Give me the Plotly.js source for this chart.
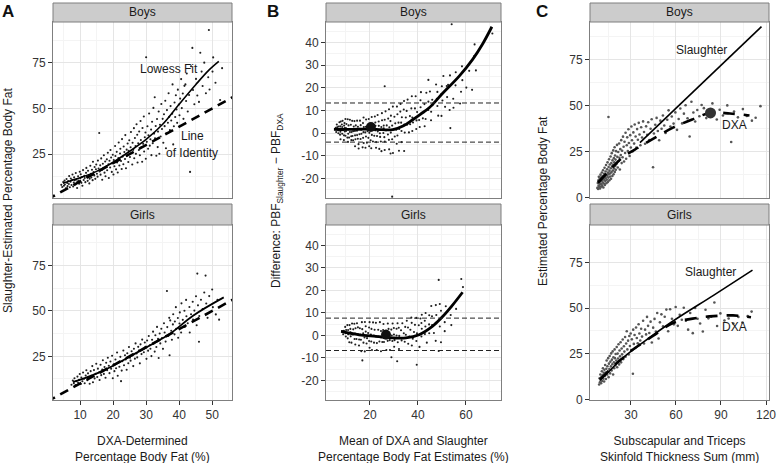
<!DOCTYPE html>
<html><head><meta charset="utf-8">
<script src="https://cdn.plot.ly/plotly-3.0.1.min.js"></script>
<style>html,body{margin:0;padding:0;background:#fff}#chart{width:777px;height:463px}</style>
</head><body><div id="chart"></div>
<script>
// ---------- DATA ----------
// Panel A: [DXA %BF, Slaughter-estimated %BF]
const boysA = [[4.3,8.1],[4.6,6.9],[4.9,9.7],[5.1,7.6],[5.3,10.4],[5.4,8.3],[5.7,6.2],[5.9,11.3],[6.1,9.1],[6.2,7.4],[6.4,10.2],[6.6,8.6],[6.7,12.9],[6.9,6.8],[7.1,9.8],[7.2,11.6],[7.4,8.0],[7.6,10.9],[7.7,13.8],[7.9,7.2],[8.1,9.4],[8.2,12.2],[8.4,10.6],[8.6,8.3],[8.7,14.6],[8.9,11.1],[9.1,6.4],[9.2,9.9],[9.4,12.8],[9.6,10.5],[9.7,8.7],[9.9,15.3],[10.1,11.7],[10.2,13.9],[10.4,9.2],[10.6,12.4],[10.7,7.6],[10.9,16.2],[11.1,10.8],[11.3,13.1],[11.4,11.9],[11.6,9.6],[11.8,14.7],[11.9,17.4],[12.1,12.6],[12.3,10.3],[12.4,15.8],[12.6,13.4],[12.8,8.9],[12.9,11.5],[13.1,18.6],[13.3,14.2],[13.4,12.1],[13.6,16.4],[13.8,10.7],[13.9,20.8],[14.1,15.1],[14.3,13.3],[14.4,17.9],[14.6,11.4],
[14.8,16.7],[14.9,19.3],[15.1,14.2],[15.3,12.6],[15.4,21.4],[15.6,17.1],[15.8,36.5],[15.9,15.4],[16.1,18.8],[16.2,13.7],[16.4,22.6],[16.6,16.3],[16.7,10.9],[16.9,19.7],[17.1,17.5],[17.2,24.3],[17.4,14.8],[17.6,20.9],[17.7,12.8],[17.9,18.2],[18.1,22.1],[18.2,16.1],[18.4,25.7],[18.6,19.4],[18.7,11.9],[18.9,21.3],[19.1,17.6],[19.2,27.2],[19.4,23.1],[19.6,15.2],[19.7,19.8],[19.9,24.6],[20.1,13.8],[20.2,21.7],[20.4,18.3],[20.6,29.4],[20.7,23.9],[20.9,16.6],[21.1,26.2],[21.2,20.4],[21.4,14.9],[21.6,22.8],[21.7,31.3],[21.9,18.7],[22.1,25.3],[22.2,27.9],[22.4,21.2],[22.6,16.8],[22.7,33.2],[22.9,23.6],[23.1,19.4],[23.2,29.1],[23.4,26.1],[23.6,22.3],[23.7,35.4],[23.9,17.2],[24.1,27.4],[24.2,24.1],[24.4,30.8],[24.6,20.6],[24.7,26.8],[24.9,32.6],
[25.1,23.4],[25.3,28.7],[25.4,37.1],[25.6,25.6],[25.8,19.3],[25.9,31.2],[26.1,27.3],[26.3,39.2],[26.4,22.7],[26.6,33.8],[26.8,29.4],[26.9,25.1],[27.1,41.3],[27.3,35.6],[27.4,20.4],[27.6,30.9],[27.8,27.2],[27.9,37.4],[28.1,24.3],[28.3,43.1],[28.4,32.7],[28.6,28.8],[28.8,20.8],[28.9,39.3],[29.1,30.6],[29.3,45.6],[29.4,26.4],[29.6,34.2],[29.8,36.8],[29.9,22.4],[30.0,78.1],[30.2,31.7],[30.4,40.2],[30.6,27.9],[30.7,35.3],[30.9,47.2],[31.1,29.6],[31.3,33.1],[31.5,38.4],[31.6,24.4],[31.8,42.7],[32.0,30.9],[32.2,50.3],[32.4,36.2],[32.6,56.1],[32.7,33.6],[32.9,40.4],[33.1,24.1],[33.3,44.2],[33.5,28.8],[33.6,37.3],[33.8,48.3],[34.0,25.2],[34.2,41.1],[34.4,34.6],[34.6,52.4],[34.8,38.7],
[35.0,44.3],[35.2,31.2],[35.4,46.8],[35.6,40.3],[35.8,54.2],[36.0,28.2],[36.1,36.4],[36.3,49.1],[36.6,42.2],[36.8,58.3],[37.0,45.4],[37.2,38.1],[37.4,51.3],[37.6,43.4],[37.9,47.1],[38.0,63.2],[38.2,30.3],[38.4,40.2],[38.6,53.3],[38.8,45.3],[39.0,57.2],[39.2,49.4],[39.4,42.1],[39.6,60.3],[39.9,52.2],[40.1,46.3],[40.3,55.4],[40.6,66.1],[40.8,50.2],[41.1,58.2],[41.3,44.3],[41.6,62.4],[41.9,63.2],[42.1,54.1],[42.3,69.2],[42.6,48.3],[43.0,57.4],[43.3,15.2],[43.6,73.1],[44.0,83.2],[44.2,60.1],[44.6,52.3],[45.1,66.2],[45.5,57.1],[46.0,53.6],[46.4,80.5],[46.8,70.2],[47.1,62.3],[47.6,75.1],[48.1,58.3],[48.8,67.1],[49.2,60.4],[49.0,93.0],[50.3,78.0],[50.1,70.2],[51.0,64.1],[52.4,54.6],[53.0,72.1]];
const girlsA = [[7.4,9.3],[7.8,11.6],[8.1,10.2],[8.3,12.9],[8.6,9.1],[8.9,11.3],[9.2,13.8],[9.4,10.4],[9.7,12.1],[9.9,15.2],[10.2,9.7],[10.4,13.3],[10.7,11.2],[10.9,16.1],[11.2,12.6],[11.4,10.1],[11.7,14.4],[11.9,17.3],[12.2,11.8],[12.4,15.6],[12.7,13.1],[12.9,9.9],[13.2,16.8],[13.4,14.2],[13.7,19.6],[13.9,10.7],[14.2,17.4],[14.4,12.8],[14.7,15.3],[14.9,20.9],
[15.2,13.6],[15.4,18.2],[15.7,16.1],[15.9,11.9],[16.2,20.3],[16.4,14.6],[16.7,17.7],[16.9,22.8],[17.2,15.3],[17.4,19.1],[17.7,13.2],[17.9,21.4],[18.2,17.3],[18.4,24.2],[18.7,19.8],[18.9,15.7],[19.2,22.1],[19.4,18.2],[19.7,25.3],[19.9,12.9],[20.2,20.6],[20.4,16.8],[20.7,23.2],[20.9,18.4],[21.2,27.1],[21.4,14.3],[21.7,21.6],[21.9,19.2],[22.2,24.7],[22.4,11.3],[22.6,17.1],[22.8,22.3],[23.1,28.2],[23.3,20.1],[23.6,25.6],[23.8,23.3],[24.1,17.6],[24.3,26.7],[24.6,21.2],[24.8,30.1],
[25.1,24.2],[25.3,22.6],[25.6,27.8],[25.8,25.4],[26.1,19.6],[26.3,29.2],[26.6,23.7],[26.8,32.1],[27.1,26.6],[27.3,24.4],[27.6,30.2],[27.8,28.1],[28.1,21.1],[28.3,31.6],[28.6,26.2],[28.8,34.2],[29.1,29.1],[29.3,27.2],[29.6,32.6],[29.8,30.2],[30.1,23.6],[30.3,33.7],[30.6,28.1],[30.8,36.2],[31.1,31.1],[31.3,29.2],[31.6,25.1],[31.8,34.1],[32.1,38.6],[32.3,32.1],[32.6,27.6],[32.8,36.6],[33.1,30.1],[33.3,41.2],[33.6,34.6],[33.8,24.1],[34.1,37.6],[34.3,32.1],[34.6,40.2],[34.8,35.1],
[35.1,29.1],[35.4,43.2],[35.6,38.1],[35.9,33.1],[36.3,61.0],[36.4,41.1],[36.7,36.2],[37.0,46.2],[37.1,25.6],[37.3,44.8],[37.6,39.1],[37.8,34.1],[38.1,42.6],[38.2,48.2],[38.6,37.1],[38.7,44.2],[39.0,52.1],[39.1,40.1],[39.6,46.1],[39.7,35.2],[40.1,43.1],[40.2,49.2],[40.6,38.1],[40.7,54.2],[41.1,45.1],[41.6,50.1],[41.7,41.2],[42.1,56.1],[42.2,47.1],[42.6,43.2],[43.1,52.2],[43.2,38.1],[43.6,48.2],[44.1,55.1],[44.2,45.2],[44.6,50.2],[45.1,58.1],[45.3,42.1],[45.5,70.6],[45.7,53.1],[46.1,47.2],[46.0,33.0],[46.6,56.2],[47.1,51.1],[47.6,60.2],[48.0,69.5],[48.2,54.1],[48.6,46.2],[49.1,58.2],[50.0,61.8],[50.2,52.1],[51.1,48.1],[51.6,56.2],[52.1,45.2]];
// Lowess fits (panel A)
const boysLowessX = [4.8,10,15,20,25,30,35,40,45,49,52];
const boysLowessY = [9,12,15.5,20.5,26.5,33,41.3,52.3,63,71,75.8];
const girlsLowessX = [7.9,12,16,20,25,31.1,37.2,44.2,53.5];
const girlsLowessY = [10.9,13.4,16.3,19.8,24.8,31,37.4,47.4,57.5];
const identityLine = [0,60];
// Panel B: lowess of differences and limits of agreement
const boysDiffFitX = [5,10,15,20,25,29.5,34,37.8,41,44.7,50.3,57.2,62.8,67,70.8];
const boysDiffFitY = [1.6,1.6,1.7,1.7,1.5,1.5,3.2,5.9,8.3,11.2,17.6,25.2,32.6,39.5,47];
const girlsDiffFitX = [8,15.5,22.5,29.5,35,40.5,46,50.3,54.5,58.6];
const girlsDiffFitY = [1.8,0.3,-0.4,-1.1,-1.1,0.3,4,8.4,13.6,19.2];
const boysLimits = [13.3,-4.0];
const girlsLimits = [7.7,-6.7];
const bigDotBoysB = [20.4,2.7];
const bigDotGirlsB = [26.7,0.3];
// Panel C: [skinfold sum (mm), DXA %BF]
const boysC = [[7.6,5.2],[7.9,7.8],[8.1,4.6],[8.3,9.4],[8.4,6.3],[8.6,11.2],[8.8,5.7],[8.9,8.1],[9.1,6.9],[9.2,10.3],[9.4,4.9],[9.6,7.4],[9.7,12.4],[9.9,8.8],[10.1,5.8],[10.2,10.9],[10.4,7.1],[10.6,13.6],[10.7,9.3],[10.9,6.2],[11.1,11.7],[11.2,8.2],[11.4,14.8],[11.6,5.4],[11.7,10.1],[11.9,7.6],[12.1,12.9],[12.2,9.7],[12.4,16.2],[12.6,6.8],[12.7,11.3],[12.9,8.9],[13.1,14.1],[13.2,10.6],[13.4,17.7],[13.6,7.7],[13.7,12.4],[13.9,9.6],[14.1,15.3],[14.2,11.8],[14.4,19.1],[14.6,8.4],[14.7,13.5],[14.9,10.8],[15.1,16.6],[15.2,12.7],[15.4,20.8],[15.6,9.3],[15.7,14.6],[15.9,17.9],[16.1,11.4],[16.2,13.1],[16.4,22.3],[16.6,15.9],[16.7,10.2],[16.9,18.7],[17.1,13.8],[17.2,24.1],[17.4,16.9],[17.6,11.7],[17.7,20.2],[17.9,14.7],[18.1,17.8],[18.2,25.6],[18.4,12.6],[18.6,21.4],[18.7,15.8],[18.9,19.1],[19.1,27.3],[19.2,13.9],[19.4,22.8],[19.6,17.2],[19.7,20.6],[19.9,15.1],[20.1,25.2],
[20.4,18.4],[20.7,28.6],[20.9,22.1],[21.2,16.3],[21.5,24.7],[21.8,19.8],[22.1,29.4],[22.3,21.6],[22.6,15.2],[22.9,26.3],[23.2,23.1],[23.5,31.2],[23.8,18.7],[24.1,25.4],[24.4,21.9],[24.7,33.1],[25.1,27.6],[25.4,19.6],[25.7,30.3],[26.1,24.2],[26.4,35.2],[26.8,21.1],[27.2,28.4],[27.5,32.7],[27.9,25.3],[28.3,37.1],[28.6,29.6],[29.1,22.6],[29.5,33.9],[29.9,27.2],[30.3,38.6],[30.7,31.1],[31.2,25.1],[31.6,35.4],[32.1,29.3],[32.5,39.7],[33.1,33.2],[33.6,27.1],[34.1,37.2],[34.6,31.4],[35.2,40.6],[35.7,34.3],[36.3,28.4],[36.8,38.2],[37.4,32.6],[38.1,41.4],[38.7,35.6],[39.4,29.2],[40.1,38.7],[40.8,34.1],
[41.5,40.9],[42.2,31.3],[43.1,37.4],[43.8,42.6],[44.7,16.4],[45.3,34.8],[46.2,39.6],[47.1,43.3],[47.9,36.2],[48.8,31.1],[49.6,41.8],[50.4,37.4],[51.3,44.6],[52.2,39.2],[53.1,35.1],[54.2,42.3],[55.1,47.4],[56.3,38.6],[57.2,44.1],[58.4,40.2],[59.6,46.3],[60.7,36.8],[61.8,42.7],[62.9,48.4],[64.1,40.3],[65.3,45.6],[66.4,50.2],[67.7,43.1],[69.1,33.2],[70.3,52.1],[71.6,46.2],[72.8,41.3],[74.2,47.6],[75.6,44.2],[77.1,50.3],[78.6,48.6],[80.2,43.2],[82.1,45.1],[84.3,51.2],[85.6,46.3],[87.2,42.4],[89.1,47.7],[91.3,44.6],[94.2,50.1],[96.8,30.2],[98.7,46.8],[101.3,43.6],[104.6,48.1],[107.2,44.3],[110.6,41.8],[113.1,43.4],[116.3,49.7],[15.0,43.8]];
const girlsC = [[8.8,8.2],[9.1,11.6],[9.3,9.4],[9.6,13.7],[9.8,10.6],[10.1,8.9],[10.3,12.3],[10.6,15.4],[10.8,10.1],[11.1,13.2],[11.3,17.1],[11.6,11.4],[11.8,14.6],[12.1,9.8],[12.3,16.3],[12.6,12.8],[12.8,18.9],[13.1,14.7],[13.3,11.2],[13.6,16.8],[13.8,21.3],[14.1,13.6],[14.3,18.2],[14.6,15.4],[14.8,22.6],[15.1,12.2],[15.3,19.6],[15.6,16.7],[15.8,23.8],[16.1,14.3],[16.3,20.7],[16.6,18.1],[16.8,25.2],[17.1,15.9],[17.3,21.8],[17.6,19.3],[17.8,26.3],[18.1,13.7],[18.3,23.1],[18.6,20.4],[18.8,17.1],[19.1,27.4],[19.3,22.6],[19.6,18.6],[19.8,24.9],
[20.2,21.3],[20.5,28.7],[20.8,17.6],[21.1,25.1],[21.4,22.4],[21.7,30.2],[22.1,19.2],[22.4,26.8],[22.7,23.6],[23.1,31.3],[23.4,20.3],[23.8,27.9],[24.1,24.7],[24.5,32.8],[24.9,22.1],[25.3,29.1],[25.6,26.2],[26.1,34.2],[26.4,23.4],[26.8,30.6],[27.2,37.3],[27.6,27.4],[28.1,32.2],[28.5,24.6],[28.9,34.7],[29.3,29.3],[29.8,36.1],[30.2,27.1],[30.6,32.9],[31.3,14.1],[31.5,38.2],[31.9,30.4],[32.4,35.3],[32.9,28.2],[33.4,39.4],[33.9,33.6],[34.5,30.8],[35.1,41.2],[35.6,36.1],[36.2,32.3],[36.8,38.7],[37.4,34.4],[38.1,43.1],[38.7,30.6],[39.4,38.2],[40.1,35.6],
[40.7,45.2],[41.4,40.3],[42.2,36.4],[43.1,42.6],[43.9,31.2],[44.8,39.3],[45.7,44.1],[46.6,37.2],[47.5,47.3],[48.4,33.4],[49.3,42.2],[50.3,46.6],[51.4,40.1],[52.5,45.3],[53.6,49.2],[54.8,37.3],[56.1,49.4],[57.3,44.2],[58.6,41.1],[59.8,50.6],[61.2,40.3],[62.5,46.4],[63.9,43.6],[65.2,50.2],[66.6,43.1],[68.1,38.2],[69.5,47.3],[71.2,36.3],[72.8,50.1],[74.4,44.2],[76.1,41.6],[77.9,37.2],[79.7,49.1],[81.6,44.4],[83.5,45.3],[85.6,53.1],[87.4,40.2],[89.6,47.1],[92.3,43.2],[95.1,44.3],[98.2,41.6],[101.6,45.2],[104.3,42.1],[107.8,45.6],[110.4,48.1]];
const boysSlaughterX = [36,65,94,117];
const boysSlaughterY = [29.8,52.5,75,93];
const boysDxaFitX = [8,16,24.7,36,47,58,71,82.7,96,109];
const boysDxaFitY = [8,15,22,27.7,33,38,42.5,46,45.7,44.6];
const girlsSlaughterX = [9.3,15,20,25,30,36,57.8,85,111];
const girlsSlaughterY = [10.5,15,19.3,23,26.3,30,42.8,57,70.8];
const girlsDxaFitX = [9.3,15,20,25,30,36,46,58,74,85,98,110];
const girlsDxaFitY = [10.9,15.5,19.5,23,26.5,30,35.5,41.8,44.6,45.6,46,45];
const bigDotBoysC = [83,46];
const bTickVals = [-20,-10,0,10,20,30,40];
const bTickText = ['-20','-10','0','10','20','30','40'];

// ---------- derived (Bland–Altman) ----------
const bx = a => a.map(p => p[0]);
const by = a => a.map(p => p[1]);
const baMean = a => a.map(p => (p[0] + p[1]) / 2);
const baDiff = a => a.map(p => p[1] - p[0]);

// ---------- layout helpers ----------
const W = 777, H = 463;
const X = px => px / W, Y = py => 1 - py / H;
const FONT = 'Liberation Sans, Arial, sans-serif';
const cols = {A: [53, 232], B: [326, 501], C: [590, 769]};
const rows = {boys: [22, 198], girls: [225, 400]};
const strips = {boys: [3, 22], girls: [204, 225]};

function axis(dom, range, dtick, mdtick, showLabels, anchor, isY, extra) {
  const d = isY ? [Y(dom[1]), Y(dom[0])] : [X(dom[0]), X(dom[1])];
  return Object.assign({
    domain: d, range: range, dtick: dtick, tick0: 0, anchor: anchor,
    showgrid: true, gridcolor: '#e5e5e5', gridwidth: 1,
    minor: {dtick: mdtick, showgrid: true, gridcolor: '#f4f4f4', gridwidth: 1},
    zeroline: false, showline: true, mirror: true, linecolor: '#7f7f7f', linewidth: 1,
    ticks: showLabels ? 'outside' : '', ticklen: 4, tickcolor: '#333', tickwidth: 1,
    showticklabels: showLabels, tickfont: {family: FONT, size: 12, color: '#333'},
    fixedrange: true
  }, extra || {});
}

const rA = [1.8, 56], rAy = [0.9, 97.4];
const rB = [1.7, 74.6], rBy = [-28.7, 49.1];
const rC = [2.7, 122], rCy = [-0.3, 95.5];
const bY = {tickmode: 'array', tickvals: bTickVals, ticktext: bTickText};

const layout = {
  width: W, height: H, autosize: false,
  margin: {l: 0, r: 0, t: 0, b: 0},
  paper_bgcolor: '#fff', plot_bgcolor: '#fff', showlegend: false,
  font: {family: FONT, size: 12, color: '#1a1a1a'},
  xaxis:  axis(cols.A, rA, 10, 5, false, 'y', false),
  yaxis:  axis(rows.boys, rAy, 25, 12.5, true, 'x', true),
  xaxis2: axis(cols.A, rA, 10, 5, true, 'y2', false),
  yaxis2: axis(rows.girls, rAy, 25, 12.5, true, 'x2', true),
  xaxis3: axis(cols.B, rB, 20, 10, false, 'y3', false),
  yaxis3: axis(rows.boys, rBy, 10, 5, true, 'x3', true, bY),
  xaxis4: axis(cols.B, rB, 20, 10, true, 'y4', false),
  yaxis4: axis(rows.girls, rBy, 10, 5, true, 'x4', true, bY),
  xaxis5: axis(cols.C, rC, 30, 15, false, 'y5', false),
  yaxis5: axis(rows.boys, rCy, 25, 12.5, true, 'x5', true),
  xaxis6: axis(cols.C, rC, 30, 15, true, 'y6', false),
  yaxis6: axis(rows.girls, rCy, 25, 12.5, true, 'x6', true),
  shapes: [], annotations: []
};

// strips
for (const c of Object.keys(cols)) {
  for (const r of ['boys', 'girls']) {
    layout.shapes.push({type: 'rect', xref: 'paper', yref: 'paper',
      x0: X(cols[c][0]), x1: X(cols[c][1]), y0: Y(strips[r][1]), y1: Y(strips[r][0]),
      fillcolor: '#cccccc', line: {color: '#7f7f7f', width: 1}, layer: 'above'});
    layout.annotations.push({xref: 'paper', yref: 'paper', showarrow: false,
      x: X((cols[c][0] + cols[c][1]) / 2), y: Y((strips[r][0] + strips[r][1]) / 2),
      xanchor: 'center', yanchor: 'middle', text: r === 'boys' ? 'Boys' : 'Girls',
      font: {family: FONT, size: 12, color: '#1a1a1a'}});
  }
}
// limits of agreement (panel B)
for (const v of boysLimits) layout.shapes.push({type: 'line', xref: 'x3 domain', yref: 'y3', x0: 0, x1: 1, y0: v, y1: v, line: {color: '#222', width: 1, dash: '5px,3px'}});
for (const v of girlsLimits) layout.shapes.push({type: 'line', xref: 'x4 domain', yref: 'y4', x0: 0, x1: 1, y0: v, y1: v, line: {color: '#222', width: 1, dash: '5px,3px'}});

function ann(text, x, y, opts) {
  layout.annotations.push(Object.assign({xref: 'paper', yref: 'paper', x: X(x), y: Y(y), text: text,
    showarrow: false, xanchor: 'center', yanchor: 'middle', font: {family: FONT, size: 12, color: '#1a1a1a'}}, opts || {}));
}
function dann(text, xref, yref, x, y, opts) {
  layout.annotations.push(Object.assign({xref: xref, yref: yref, x: x, y: y, text: text,
    showarrow: false, xanchor: 'center', yanchor: 'middle', font: {family: FONT, size: 12, color: '#1a1a1a'}}, opts || {}));
}
// panel letters
ann('<b>A</b>', 8, 11, {font: {family: FONT, size: 17, color: '#111'}});
ann('<b>B</b>', 273, 11, {font: {family: FONT, size: 17, color: '#111'}});
ann('<b>C</b>', 542, 11, {font: {family: FONT, size: 17, color: '#111'}});
// y titles
ann('Slaughter-Estimated Percentage Body Fat', 8, 201, {textangle: -90});
ann('Difference: PBF<sub>Slaughter</sub> − PBF<sub>DXA</sub>', 277, 201, {textangle: -90});
ann('Estimated Percentage Body Fat', 543, 201, {textangle: -90});
// x titles
ann('DXA-Determined<br>Percentage Body Fat (%)', 142.5, 448.5);
ann('Mean of DXA and Slaughter<br>Percentage Body Fat Estimates (%)', 413.5, 448.5);
ann('Subscapular and Triceps<br>Skinfold Thickness Sum (mm)', 679.5, 448.5);
// in-panel labels
dann('Lowess Fit', 'x', 'y', 37, 71.5);
dann('Line', 'x', 'y', 44, 35);
dann('of Identity', 'x', 'y', 44, 25.8);
dann('Slaughter', 'x5', 'y5', 77, 80.5);
dann('DXA', 'x5', 'y5', 99, 39.6);
dann('Slaughter', 'x6', 'y6', 82.7, 70);
dann('DXA', 'x6', 'y6', 99, 39.7);

// ---------- traces ----------
const pts = (x, y, xa, ya, color, size) => ({type: 'scatter', mode: 'markers', x: x, y: y, xaxis: xa, yaxis: ya,
  marker: {size: size || 2.1, color: color || '#1f1f1f', line: {width: 0}}, hoverinfo: 'skip', cliponaxis: true});
const line = (x, y, xa, ya, width, dash, shape) => ({type: 'scatter', mode: 'lines', x: x, y: y, xaxis: xa, yaxis: ya,
  line: {color: '#000', width: width, dash: dash || 'solid', shape: shape || 'spline'}, hoverinfo: 'skip'});

const data = [
  // A
  pts(bx(boysA), by(boysA), 'x', 'y'),
  line(identityLine, identityLine, 'x', 'y', 2.6, '9px,6px', 'linear'),
  line(boysLowessX, boysLowessY, 'x', 'y', 1.6),
  pts(bx(girlsA), by(girlsA), 'x2', 'y2'),
  line(identityLine, identityLine, 'x2', 'y2', 2.6, '9px,6px', 'linear'),
  line(girlsLowessX, girlsLowessY, 'x2', 'y2', 1.8),
  // B
  pts(baMean(boysA), baDiff(boysA), 'x3', 'y3'),
  line(boysDiffFitX, boysDiffFitY, 'x3', 'y3', 2.8),
  pts([bigDotBoysB[0]], [bigDotBoysB[1]], 'x3', 'y3', '#111', 10),
  pts(baMean(girlsA), baDiff(girlsA), 'x4', 'y4'),
  line(girlsDiffFitX, girlsDiffFitY, 'x4', 'y4', 2.8),
  pts([bigDotGirlsB[0]], [bigDotGirlsB[1]], 'x4', 'y4', '#111', 10),
  // C
  pts(bx(boysC), by(boysC), 'x5', 'y5', '#555', 2.6),
  line(boysSlaughterX, boysSlaughterY, 'x5', 'y5', 1.6, 'solid', 'linear'),
  line(boysDxaFitX, boysDxaFitY, 'x5', 'y5', 2.6, '12px,9px'),
  pts([bigDotBoysC[0]], [bigDotBoysC[1]], 'x5', 'y5', '#333', 11),
  pts(bx(girlsC), by(girlsC), 'x6', 'y6', '#555', 2.6),
  line(girlsSlaughterX, girlsSlaughterY, 'x6', 'y6', 1.6),
  line(girlsDxaFitX, girlsDxaFitY, 'x6', 'y6', 2.6, '12px,9px')
];

Plotly.newPlot('chart', data, layout, {staticPlot: true, displayModeBar: false});
</script></body></html>
